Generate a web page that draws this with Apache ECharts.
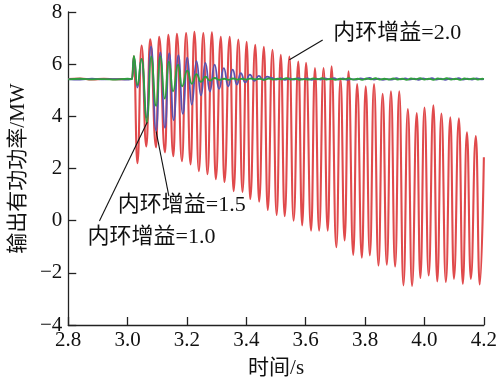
<!DOCTYPE html>
<html><head><meta charset="utf-8">
<script src="https://cdn.jsdelivr.net/npm/echarts@6/dist/echarts.min.js"></script>
<style>html,body{margin:0;padding:0;background:#fff}#c{width:500px;height:387px}</style>
</head><body><div id="c"></div>
<script>
// ---- data (time in s, power in MW) ----
const redT = [2.80, 2.84, 2.88, 2.92, 2.96, 3.00, 3.015, 3.021,
  3.033, 3.047, 3.063, 3.076, 3.096, 3.106, 3.126, 3.137, 3.154, 3.166,
  3.183, 3.197, 3.212, 3.225, 3.240, 3.255, 3.269, 3.284, 3.297, 3.314,
  3.326, 3.344, 3.357, 3.373, 3.387, 3.401, 3.413, 3.430, 3.443, 3.459,
  3.472, 3.488, 3.502, 3.516, 3.529, 3.545, 3.559, 3.575, 3.588, 3.601,
  3.618, 3.631, 3.645, 3.660, 3.674, 3.687, 3.703, 3.717, 3.731, 3.744,
  3.760, 3.773, 3.789, 3.802, 3.816, 3.830, 3.845, 3.859, 3.873, 3.887,
  3.901, 3.915, 3.929, 3.944, 3.958, 3.974, 3.986, 4.000, 4.014, 4.030,
  4.043, 4.057, 4.072, 4.087, 4.099, 4.116, 4.129, 4.143, 4.156, 4.173,
  4.186, 4.200];
const redP = [5.43, 5.45, 5.41, 5.44, 5.42, 5.43, 5.43, 6.30,
  2.20, 6.71, 2.85, 6.95, 2.81, 7.05, 2.62, 7.13, 2.47, 7.16,
  2.28, 7.19, 2.16, 7.24, 1.90, 7.19, 1.78, 7.22, 1.59, 7.05,
  1.48, 7.05, 1.13, 6.94, 1.10, 6.86, 0.83, 6.74, 0.73, 6.67,
  0.41, 6.55, 0.22, 6.36, 0.17, 6.29, 0.00, 6.10, -0.18, 6.05,
  -0.38, 5.85, -0.38, 5.85, -0.38, 5.92, -1.02, 5.45, -0.76, 5.73,
  -1.31, 5.24, -1.42, 5.15, -1.33, 5.24, -1.72, 4.86, -1.69, 4.96,
  -1.76, 4.96, -2.48, 4.28, -2.50, 4.13, -2.20, 4.34, -2.10, 4.42,
  -2.33, 4.11, -2.35, 3.96, -2.23, 3.92, -2.42, 3.39, -2.23, 3.24,
  -2.45, 2.43];

const blueT = [2.80, 2.84, 2.88, 2.92, 2.96, 3.00, 3.015, 3.021,
  3.033, 3.047, 3.064, 3.079, 3.096, 3.110, 3.126, 3.140, 3.155, 3.171,
  3.186, 3.201, 3.216, 3.232, 3.247, 3.262, 3.277, 3.293, 3.308, 3.324,
  3.339, 3.354, 3.368, 3.381, 3.396, 3.412, 3.427, 3.442, 3.456, 3.470,
  3.485, 3.500, 3.515, 3.530, 3.545, 3.560, 3.575, 3.590, 3.605, 3.620,
  3.635, 3.650, 3.665, 3.680, 3.695, 3.710, 3.725, 3.740, 3.755, 3.770,
  3.785, 3.800, 3.815, 3.830, 3.845, 3.860, 3.875, 3.890, 3.905, 3.920,
  3.935, 3.950, 3.965, 3.980, 3.995, 4.010, 4.025, 4.040, 4.055, 4.070,
  4.085, 4.100, 4.115, 4.130, 4.145, 4.160, 4.175, 4.190, 4.200];
const blueP = [5.43, 5.41, 5.44, 5.42, 5.43, 5.41, 5.43, 6.28,
  5.10, 6.20, 3.95, 6.68, 3.45, 6.45, 3.56, 6.42, 3.85, 6.35,
  4.10, 6.25, 4.45, 6.12, 4.80, 6.05, 4.95, 5.98, 5.05, 5.85,
  5.15, 5.79, 5.22, 5.66, 5.30, 5.60, 5.36, 5.55, 5.40, 5.52,
  5.47, 5.41, 5.46, 5.40, 5.45, 5.41, 5.46, 5.42, 5.45, 5.40,
  5.44, 5.41, 5.45, 5.42, 5.46, 5.41, 5.45, 5.40, 5.43, 5.41,
  5.45, 5.42, 5.47, 5.41, 5.44, 5.40, 5.43, 5.41, 5.46, 5.42,
  5.45, 5.41, 5.44, 5.40, 5.45, 5.42, 5.46, 5.41, 5.44, 5.40,
  5.45, 5.42, 5.46, 5.41, 5.44, 5.41, 5.45, 5.42, 5.43];

const greenT = [2.80, 2.84, 2.88, 2.92, 2.96, 3.00, 3.015, 3.021,
  3.033, 3.047, 3.066, 3.079, 3.096, 3.110, 3.125, 3.139, 3.153, 3.170,
  3.183, 3.201, 3.216, 3.232, 3.247, 3.262, 3.277, 3.293, 3.308,
  3.325, 3.340, 3.355, 3.370, 3.385, 3.400, 3.415, 3.430, 3.445, 3.460,
  3.475, 3.490, 3.505, 3.520, 3.535, 3.550, 3.565, 3.580, 3.595, 3.610,
  3.625, 3.640, 3.655, 3.670, 3.685, 3.700, 3.715, 3.730, 3.745, 3.760,
  3.775, 3.790, 3.805, 3.820, 3.835, 3.850, 3.865, 3.880, 3.895, 3.910,
  3.925, 3.940, 3.955, 3.970, 3.985, 4.000, 4.015, 4.030, 4.045, 4.060,
  4.075, 4.090, 4.105, 4.120, 4.135, 4.150, 4.165, 4.180, 4.195, 4.200];
const greenP = [5.42, 5.44, 5.42, 5.43, 5.41, 5.44, 5.43, 6.32,
  5.20, 6.20, 3.76, 6.30, 4.40, 6.30, 4.68, 6.10, 4.96, 5.98,
  5.15, 5.75, 5.25, 5.62, 5.32, 5.52, 5.37, 5.47, 5.40,
  5.44, 5.40, 5.45, 5.41, 5.44, 5.41, 5.45, 5.42, 5.44, 5.40,
  5.45, 5.41, 5.44, 5.42, 5.46, 5.41, 5.44, 5.40, 5.43, 5.41,
  5.45, 5.42, 5.46, 5.41, 5.44, 5.40, 5.44, 5.42, 5.46, 5.41,
  5.44, 5.40, 5.45, 5.42, 5.46, 5.41, 5.44, 5.41, 5.45, 5.41,
  5.44, 5.40, 5.45, 5.42, 5.46, 5.41, 5.44, 5.40, 5.45, 5.42,
  5.46, 5.41, 5.44, 5.40, 5.45, 5.42, 5.45, 5.41, 5.44, 5.43];

const seriesNames = ['内环增益=2.0', '内环增益=1.5', '内环增益=1.0'];
const xTitle = '时间/s';
const yTitle = '输出有功功率/MW';

// annotation anchors in data coordinates: label position, leader start, leader end
const annLabel = [[3.693, 7.2], [2.967, 0.6], [2.865, -0.62]];
const annFrom  = [[3.657, 6.93], [3.139, 0.94], [2.905, -0.01]];
const annTo    = [[3.545, 6.17], [3.096, 3.42], [3.066, 3.77]];

// ---- chart ----
const zip = (t, p) => t.map((v, i) => [v, p[i]]);
const numFont = 'Liberation Serif';
const mixFont = 'Liberation Serif, Noto Sans CJK SC';
const chart = echarts.init(document.getElementById('c'));
const lineSeries = (name, t, p, color, w, z) => ({
  name, type: 'line', data: zip(t, p), showSymbol: false, symbol: 'none',
  smooth: 0.5, smoothMonotone: 'x', z,
  lineStyle: { color, width: w }, itemStyle: { color }
});
const axisCommon = {
  axisLine: { show: true, onZero: false, lineStyle: { color: '#222', width: 1.3 } },
  axisTick: { show: true, inside: true, length: 8, lineStyle: { color: '#222', width: 1.3 } },
  splitLine: { show: false }
};
chart.setOption({
  animation: false,
  grid: { left: 62, right: 14, top: 12, bottom: 62 },
  xAxis: Object.assign({
    type: 'value', min: 2.8, max: 4.2, interval: 0.2,
    name: xTitle, nameLocation: 'middle', nameGap: 33,
    nameTextStyle: { fontFamily: mixFont, fontSize: 21, color: '#111' },
    axisLabel: { fontFamily: numFont, fontSize: 21, color: '#111', margin: 5,
      formatter: v => v.toFixed(1) }
  }, axisCommon),
  yAxis: Object.assign({
    type: 'value', min: -4, max: 8, interval: 2,
    name: yTitle, nameLocation: 'middle', nameGap: 30, nameRotate: 90,
    nameTextStyle: { fontFamily: mixFont, fontSize: 21, color: '#111' },
    axisLabel: { fontFamily: numFont, fontSize: 21, color: '#111', margin: 6,
      formatter: v => String(Math.round(v)).replace('-', '\u2212') }
  }, axisCommon),
  series: [
    lineSeries(seriesNames[0], redT, redP, '#e04a4c', 2.1, 2),
    lineSeries(seriesNames[1], blueT, blueP, '#5a52b0', 1.8, 3),
    lineSeries(seriesNames[2], greenT, greenP, '#2f9e3c', 1.8, 4)
  ]
});

const px = c => chart.convertToPixel({ gridIndex: 0 }, c);
const graphics = [];
for (let i = 0; i < seriesNames.length; i++) {
  const a = px(annFrom[i]), b = px(annTo[i]), l = px(annLabel[i]);
  graphics.push({ type: 'line', z: 100, silent: true,
    shape: { x1: a[0], y1: a[1], x2: b[0], y2: b[1] },
    style: { stroke: '#111', lineWidth: 1.1 } });
  graphics.push({ type: 'text', z: 100, silent: true, x: l[0], y: l[1],
    style: { text: seriesNames[i], fontSize: 22, fontFamily: mixFont, fill: '#111',
      align: 'left', verticalAlign: 'middle' } });
}
chart.setOption({ graphic: graphics });
</script>
</body></html>
